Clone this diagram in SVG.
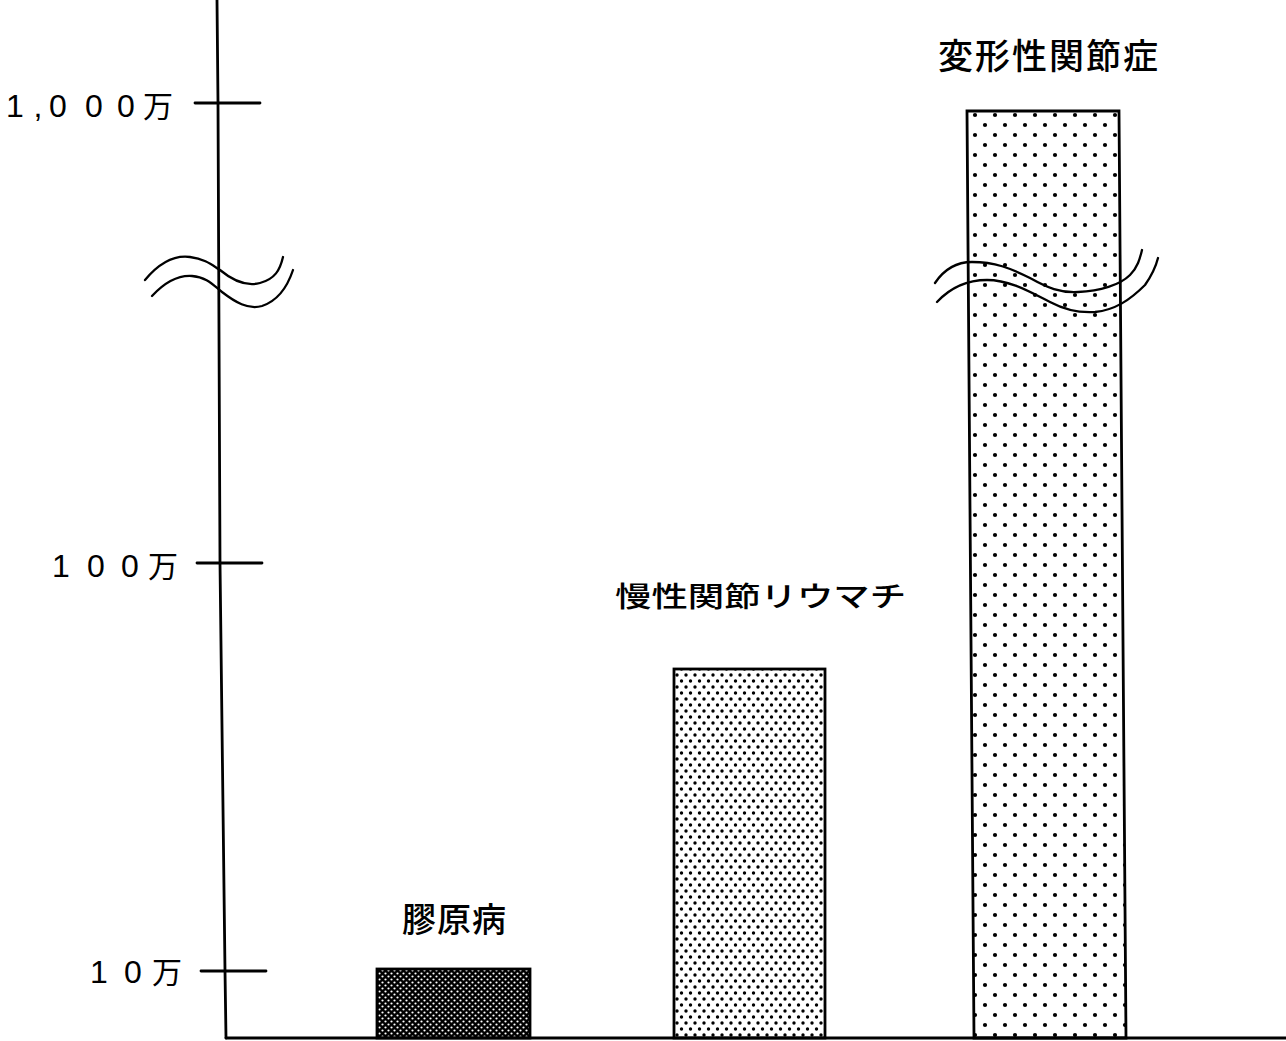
<svg xmlns="http://www.w3.org/2000/svg" width="1286" height="1041" viewBox="0 0 1286 1041">
<style>
.ln{fill:none;stroke:#000;stroke-width:2.8;stroke-linecap:round;stroke-linejoin:round}
.wv{fill:none;stroke:#000;stroke-width:2.3;stroke-linecap:round}
.tx{font-family:"Noto Sans CJK JP","Noto Sans",sans-serif;fill:#000;font-weight:500}
.ax{font-family:"Liberation Sans","Noto Sans CJK JP",sans-serif;fill:#000;font-size:32px;text-anchor:middle}
.mn{font-family:"Noto Sans CJK JP",sans-serif;font-size:30px}
.bar{stroke:#000;stroke-width:2.8}
</style>
<defs>
<pattern id="pDark" patternUnits="userSpaceOnUse" width="6" height="6">
<rect width="6" height="6" fill="#000"/>
<circle cx="1.5" cy="1.5" r="1.1" fill="#fff"/>
<circle cx="4.5" cy="4.5" r="1.1" fill="#fff"/>
</pattern>
<pattern id="pMid" patternUnits="userSpaceOnUse" width="9" height="12">
<rect width="9" height="12" fill="#fff"/>
<circle cx="2" cy="3" r="1.7" fill="#000"/>
<circle cx="6.5" cy="9" r="1.7" fill="#000"/>
</pattern>
<pattern id="pLight" patternUnits="userSpaceOnUse" width="20" height="20">
<rect width="20" height="20" fill="#fff"/>
<circle cx="5" cy="5" r="2.1" fill="#000"/>
<circle cx="15" cy="15" r="2.1" fill="#000"/>
</pattern>
</defs>
<rect width="1286" height="1041" fill="#fff"/>

<g id="bar-kogen">
<rect class="bar" x="377" y="969" width="153" height="69" fill="url(#pDark)"/>
<text class="tx" x="402" y="932" font-size="34" letter-spacing="1">膠原病</text>
</g>
<g id="bar-rheuma">
<rect class="bar" x="674" y="669" width="151" height="369" fill="url(#pMid)"/>
<text class="tx" transform="translate(615,607) scale(1.3,1)" font-size="28" letter-spacing="0">慢性関節リウマチ</text>
</g>
<g id="bar-oa">
<polygon class="bar" points="967,111 1119,111 1126,1038 974,1038" fill="url(#pLight)"/>
<text class="tx" x="938" y="69" font-size="35" letter-spacing="2">変形性関節症</text>
<path class="wv" d="M935,283 C945,268 958,262 972,262 C995,262 1010,268 1030,278 C1048,288 1060,293 1078,292 C1100,291 1120,285 1130,275 C1138,267 1140,258 1142,250"/>
<path class="wv" d="M937,302 C950,288 968,280 987,280 C1010,280 1030,292 1050,302 C1065,310 1080,313 1095,312 C1115,310 1130,300 1145,285 C1152,275 1156,266 1158,258"/>
</g>

<g id="connectors">
<polyline class="ln" points="217,0 218,103 220,563 225,971 226,1038"/>
<line class="ln" x1="226" y1="1038" x2="1286" y2="1038"/>
<line class="ln" x1="195" y1="103" x2="260" y2="103"/>
<line class="ln" x1="197" y1="563" x2="262" y2="563"/>
<line class="ln" x1="201" y1="971" x2="266" y2="971"/>
<path class="wv" d="M145,280 C160,262 175,255 190,257 C205,259 212,265 220,270 C232,280 245,287 260,283 C275,279 280,270 283,257"/>
<path class="wv" d="M152,296 C165,282 178,275 192,276 C207,277 214,286 222,292 C235,302 248,310 262,306 C280,300 288,285 293,270"/>
</g>

<g id="axis-labels">
<g id="label-1000">
<text class="ax" x="15" y="117">1</text>
<text class="ax" x="38" y="117">,</text>
<text class="ax" x="58" y="117">0</text>
<text class="ax" x="94" y="117">0</text>
<text class="ax" x="126" y="117">0</text>
<text class="ax mn" x="158" y="117">万</text>
</g>
<g id="label-100">
<text class="ax" x="61" y="577">1</text>
<text class="ax" x="96" y="577">0</text>
<text class="ax" x="130" y="577">0</text>
<text class="ax mn" x="163" y="577">万</text>
</g>
<g id="label-10">
<text class="ax" x="99" y="983">1</text>
<text class="ax" x="133" y="983">0</text>
<text class="ax mn" x="167" y="983">万</text>
</g>
</g>
</svg>
